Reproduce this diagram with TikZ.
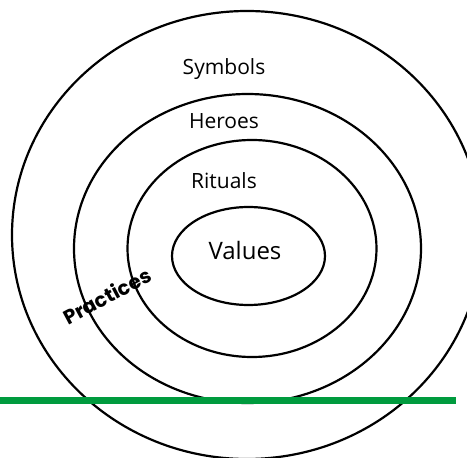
\documentclass[tikz,border=0pt]{standalone}
\usepackage{fontspec}
\setsansfont{Open Sans}
\newfontfamily\practicesfont{Poppins}
\definecolor{rulegreen}{RGB}{0,155,62}

\begin{document}
\begin{tikzpicture}[
  x=1pt, y=-1pt,
  font=\sffamily,
  ring/.style={draw=black, line width=2.2pt},
  layerlabel/.style={inner sep=1pt, font=\sffamily\fontsize{21}{25}\selectfont},
  corelabel/.style={inner sep=1pt, font=\sffamily\fontsize{24}{28}\selectfont},
  practiceslabel/.style={inner sep=1pt, rotate=28, font=\practicesfont\bfseries\fontsize{20}{24}\selectfont}
]

\useasboundingbox (0,0) rectangle (467,458);
\clip (0,0) rectangle (467,458);

% Onion layers, outside to inside.
\draw[ring] (247,235) ellipse [x radius=235, y radius=224];
\draw[ring] (247.5,248.5) ellipse [x radius=173.5, y radius=154.5];
\draw[ring] (252,248.5) ellipse [x radius=124.5, y radius=108.5];
\draw[ring] (248.5,256) ellipse [x radius=76.5, y radius=49];

% Layer names.
\node[layerlabel] (symbols) at (224,69) {Symbols};
\node[layerlabel] (heroes) at (224,121) {Heroes};
\node[layerlabel] (rituals) at (224,181) {Rituals};
\node[corelabel] (values) at (245,250) {Values};
\node[practiceslabel] (practices) at (107,296) {Practices};

% Visible / invisible divide.
\draw[rulegreen, line width=7pt] (0,400.5) -- (456,400.5);

\end{tikzpicture}
\end{document}
